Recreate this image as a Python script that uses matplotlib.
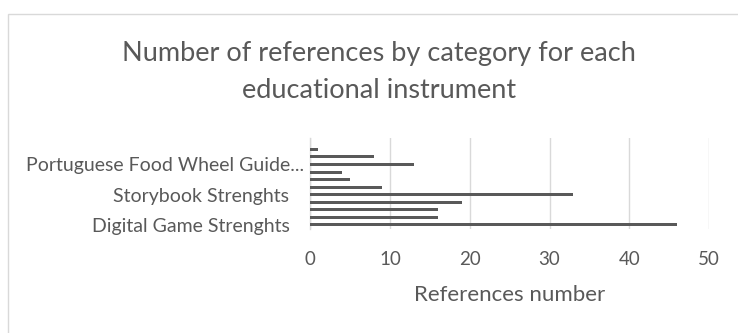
import matplotlib
matplotlib.use("Agg")
import matplotlib.pyplot as plt
from matplotlib.patches import Rectangle
from matplotlib.transforms import ScaledTranslation

# Reference counts per category, bottom to top
values = [46, 16, 16, 19, 33, 9, 5, 4, 13, 8, 1, 0]
label_positions = [0, 4, 8]
tick_labels = ["Digital Game Strenghts", "Storybook Strenghts",
               "Portuguese Food Wheel Guide..."]
x_ticks = [0, 10, 20, 30, 40, 50]

title = "Number of references by category for each\neducational instrument"
xlabel = "References number"

text_color = "#595959"
bar_color = "#595959"
grid_color = "#d9d9d9"

plt.rcParams["font.family"] = ["Lato", "DejaVu Sans"]

fig = plt.figure(figsize=(7.38, 3.33), dpi=100)
# chart frame (left and top edges visible)
fig.patches.append(Rectangle((8 / 738, -0.1), 1.0, 1.1 - 13.5 / 333,
                             transform=fig.transFigure, fill=False,
                             edgecolor="#d9d9d9", linewidth=1.0))

ax = fig.add_axes([310.3 / 738, 1 - 228.7 / 333, (709 - 310.3) / 738, 90.7 / 333])
ax.barh(range(len(values)), values, height=0.4, color=bar_color, zorder=3)
ax.set_xlim(0, 50)
ax.set_ylim(-0.5, len(values) - 0.5)
ax.set_xticks(x_ticks)
ax.set_xticklabels([str(t) for t in x_ticks])
ax.set_yticks(label_positions)
ax.set_yticklabels(tick_labels)
ax.tick_params(axis="x", length=0, colors=text_color, labelsize=13.5, pad=16)
ax.tick_params(axis="y", length=0, colors=text_color, labelsize=14, pad=15)
# the truncated label sits closer to the axis
last = ax.get_yticklabels()[-1]
last.set_transform(last.get_transform() + ScaledTranslation(15 / 100, 0, fig.dpi_scale_trans))
ax.xaxis.grid(True, color=grid_color, linewidth=1.0, zorder=0)
for side in ("top", "right", "bottom"):
    ax.spines[side].set_visible(False)
ax.spines["left"].set_color(grid_color)
ax.spines["left"].set_linewidth(1.0)
ax.set_xlabel(xlabel, color=text_color, fontsize=16, labelpad=12)

fig.text(379 / 738, 1 - 72 / 333, title, ha="center", va="center",
         multialignment="center", fontsize=19.5, color=text_color,
         linespacing=1.55)

fig.savefig("out.png", dpi=100)
